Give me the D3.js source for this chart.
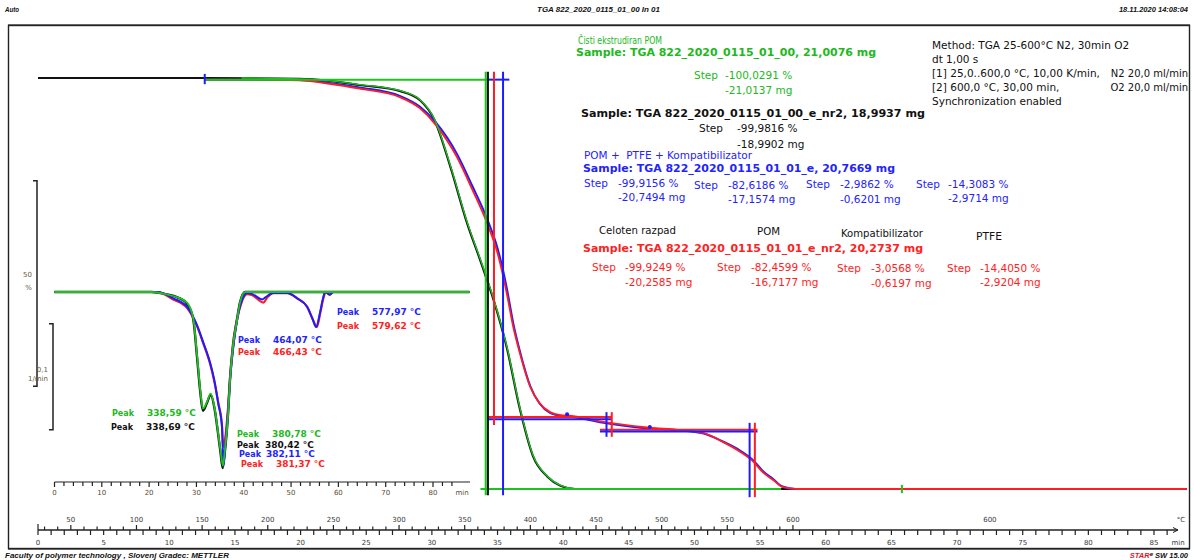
<!DOCTYPE html>
<html>
<head>
<meta charset="utf-8">
<title>TGA 822_2020_0115_01_00 In 01</title>
<script src="https://cdn.jsdelivr.net/npm/d3@7/dist/d3.min.js"></script>
<style>
  html, body { margin: 0; padding: 0; background: #fff; }
  svg { display: block; }
  text { white-space: pre; }
</style>
</head>
<body>
<svg id="chart" width="1194" height="560"></svg>
<script>
// ---------- TGA mass curves: time (min) vs. mass (%) ----------
const pomBlackTime = [0, 12.7, 19.9, 22.2, 24.5, 27.6, 29.1, 30.2, 31.4, 32.7, 33.7, 34.7, 35.7, 36.7, 37.7, 38.8, 39.8, 40.9, 87.5];
const pomBlackMass = [100, 100, 99.8, 99.3, 98.3, 96.8, 94.6, 89.8, 78.5, 64.5, 55.5, 46.0, 34.5, 19.5, 8.0, 3.0, 0.8, 0, 0];
const pomGreenTime = [15.5, 19.9, 22.2, 24.5, 27.6, 29.1, 30.2, 31.4, 32.7, 33.7, 34.7, 35.7, 36.7, 37.7, 38.8, 39.8, 40.9];
const pomGreenMass = [100, 99.8, 99.3, 98.4, 96.9, 94.7, 90.0, 78.8, 64.8, 55.8, 46.3, 34.8, 19.8, 8.2, 3.1, 0.9, 0.1];
const blendTime = [12.7, 15.5, 19.9, 22.2, 24.5, 27.6, 29.1, 30.3, 31.9, 33.1, 34.2, 35.0, 35.7, 36.2, 36.7, 37.5, 38.2, 39.0, 39.8, 40.3, 43.3, 46.6, 48.7, 50.7, 52.2, 53.5, 54.5, 55.2, 56.0, 56.7, 57.7, 87.5];
const blendRedMass = [99.6, 99.6, 99.4, 98.6, 97.4, 95.3, 92.6, 88.6, 80.8, 72.7, 64.7, 57.4, 47.7, 39.4, 33.1, 24.8, 20.9, 18.7, 18.0, 17.9, 16.2, 14.9, 14.4, 13.6, 11.4, 9.0, 6.6, 4.1, 2.2, 0.5, 0, 0];
const blendBlueMass = [99.6, 99.6, 99.5, 98.8, 97.7, 95.6, 93.0, 89.2, 81.6, 73.6, 65.8, 58.6, 49.0, 40.3, 33.6, 25.0, 20.8, 18.5, 17.8, 17.7, 16.0, 14.7, 14.3, 13.5, 11.5, 9.3, 6.9, 4.4, 2.4, 0.6, 0, 0];

// ---------- DTG curves (inset): time (min) vs. 1/min ----------
const dtgGreenTime = [0, 20.5, 23.5, 26.0, 28.0, 29.3, 30.1, 30.8, 31.36, 32.2, 33.0, 33.9, 34.5, 35.1, 35.58, 36.0, 36.7, 37.1, 37.7, 38.6, 39.2, 40.3, 87.7];
const dtgGreen = [0, 0, -0.002, -0.005, -0.010, -0.024, -0.058, -0.092, -0.110, -0.104, -0.096, -0.111, -0.130, -0.150, -0.164, -0.150, -0.115, -0.083, -0.052, -0.026, -0.010, 0, 0];
const dtgBlackTime = [0, 20.5, 23.5, 26.0, 28.0, 29.3, 30.1, 30.8, 31.37, 32.2, 33.0, 33.9, 34.5, 35.1, 35.54, 36.0, 36.7, 37.1, 37.7, 38.6, 39.2, 40.3, 87.7];
const dtgBlack = [0, 0, -0.002, -0.005, -0.011, -0.025, -0.060, -0.094, -0.112, -0.105, -0.097, -0.112, -0.131, -0.152, -0.166, -0.151, -0.114, -0.082, -0.051, -0.025, -0.010, 0, 0];
const dtgBlueTime = [0, 21.9, 25.1, 28.0, 30.1, 31.4, 32.9, 33.9, 34.6, 35.4, 35.71, 36.0, 36.7, 37.1, 37.7, 38.6, 39.6, 40.7, 41.8, 43.9, 44.9, 46.2, 49.2, 51.3, 53.4, 54.6, 55.28, 56.1, 56.8, 57.2, 58.2, 58.9, 87.7];
const dtgBlue = [0, 0, -0.006, -0.014, -0.031, -0.047, -0.067, -0.086, -0.105, -0.127, -0.164, -0.150, -0.111, -0.083, -0.055, -0.026, -0.008, -0.001, -0.002, -0.007, -0.004, -0.001, -0.001, -0.006, -0.014, -0.026, -0.033, -0.020, -0.005, 0, -0.0025, 0, 0];
const dtgRedTime = [0, 21.6, 25.1, 28.0, 30.1, 31.4, 32.9, 33.9, 34.6, 35.4, 35.64, 36.0, 36.7, 37.1, 37.7, 38.6, 39.6, 40.7, 41.8, 44.14, 45.0, 46.2, 49.2, 51.3, 53.4, 54.6, 55.46, 56.2, 56.9, 57.3, 58.2, 58.9, 87.7];
const dtgRed = [0, 0, -0.007, -0.015, -0.032, -0.048, -0.068, -0.087, -0.104, -0.126, -0.146, -0.140, -0.108, -0.081, -0.054, -0.026, -0.009, -0.002, -0.003, -0.010, -0.005, -0.001, -0.001, -0.006, -0.014, -0.026, -0.033, -0.019, -0.005, 0, -0.0025, 0, 0];

// ---------- peak temperatures (°C) ----------
const peakTemps = ["577,97", "579,62", "464,07", "466,43", "338,59", "338,69", "380,78", "380,42", "382,11", "381,37"];
const peakSeries = ["blue", "red", "blue", "red", "green", "black", "green", "black", "blue", "red"];

// ---------- axis tick labels ----------
const timeLabels = d3.range(0, 86, 5);          // min
const tempLabels = d3.range(50, 601, 50);       // °C, heating segment
const insetTimeLabels = d3.range(0, 81, 10);    // min

// ---------- evaluation results ----------
const samples = [
  "Sample: TGA 822_2020_0115_01_00, 21,0076 mg",
  "Sample: TGA 822_2020_0115_01_00_e_nr2, 18,9937 mg",
  "Sample: TGA 822_2020_0115_01_01_e, 20,7669 mg",
  "Sample: TGA 822_2020_0115_01_01_e_nr2, 20,2737 mg"
];
const greenStepPct = ["-100,0291 %"], greenStepMg = ["-21,0137 mg"];
const blackStepPct = ["-99,9816 %"], blackStepMg = ["-18,9902 mg"];
const blueStepPct = ["-99,9156 %", "-82,6186 %", "-2,9862 %", "-14,3083 %"];
const blueStepMg = ["-20,7494 mg", "-17,1574 mg", "-0,6201 mg", "-2,9714 mg"];
const redStepPct = ["-99,9249 %", "-82,4599 %", "-3,0568 %", "-14,4050 %"];
const redStepMg = ["-20,2585 mg", "-16,7177 mg", "-0,6197 mg", "-2,9204 mg"];
const stepNames = ["Celoten razpad", "POM", "Kompatibilizator", "PTFE"];
const methodLines = [
  "Method: TGA 25-600°C N2, 30min O2",
  "dt 1,00 s",
  "[1] 25,0..600,0 °C, 10,00 K/min,",
  "[2] 600,0 °C, 30,00 min,",
  "Synchronization enabled"
];
const gasLines = ["N2 20,0 ml/min", "O2 20,0 ml/min"];

// ---------- styling ----------
const COL = { green: "#1ec21e", black: "#111111", blue: "#1c1cff", red: "#ff1c24" };
const TXT = { green: "#22b822", black: "#111111", blue: "#2323ff", red: "#ff2222" };
const FONT = '"DejaVu Sans", Verdana, sans-serif';

const svg = d3.select("#chart");
const zip = (a, b) => a.map((t, i) => [t, b[i]]);

function label(g, x, y, s, o = {}) {
  const t = g.append("text").attr("x", x).attr("y", y).text(s)
    .attr("font-family", o.family || FONT)
    .attr("font-size", o.size || 10.5)
    .attr("font-weight", o.weight || "normal")
    .attr("fill", o.color || "#111");
  if (o.italic) t.attr("font-style", "italic");
  if (o.width) t.attr("textLength", o.width).attr("lengthAdjust", "spacingAndGlyphs");
  if (o.anchor) t.attr("text-anchor", o.anchor);
  return t;
}

// ---------- page frame, header, footer ----------
svg.append("rect").attr("x", 8.5).attr("y", 25.5).attr("width", 1181).attr("height", 523)
  .attr("fill", "none").attr("stroke", "#222").attr("stroke-width", 1.4);
svg.append("line").attr("x1", 8).attr("x2", 1190).attr("y1", 24.5).attr("y2", 24.5)
  .attr("stroke", "#666").attr("stroke-width", 1);
svg.append("line").attr("x1", 8).attr("x2", 1190).attr("y1", 549.5).attr("y2", 549.5)
  .attr("stroke", "#666").attr("stroke-width", 1);

const hdr = { size: 7.5, weight: "bold", italic: true, family: '"Liberation Sans", Arial, sans-serif' };
label(svg, 5, 12, "Auto", { ...hdr, width: 14 });
label(svg, 537, 12, "TGA 822_2020_0115_01_00 In 01", { ...hdr, width: 123 });
label(svg, 1188, 12, "18.11.2020 14:08:04", { ...hdr, anchor: "end" });
label(svg, 5, 558, "Faculty of polymer technology , Slovenj Gradec: METTLER", { ...hdr, width: 224 });
const star = svg.append("text").attr("x", 1188).attr("y", 558).attr("text-anchor", "end")
  .attr("font-family", hdr.family).attr("font-size", 7.5).attr("font-weight", "bold").attr("font-style", "italic");
star.append("tspan").attr("fill", "#e0141e").text("STAR");
star.append("tspan").attr("fill", "#111").attr("font-size", 6).attr("dy", -2).text("e");
star.append("tspan").attr("fill", "#111").attr("dy", 2).text(" SW 15.00");

// ---------- scales ----------
const x = d3.scaleLinear().domain([0, 85]).range([38, 1154]);
const y = d3.scaleLinear().domain([0, 100]).range([489, 78]);
const xi = d3.scaleLinear().domain([0, 80]).range([54.5, 433]);
const yi = d3.scaleLinear().domain([0, -0.1]).range([292, 398]);

const mainLine = d3.line().x(d => x(d[0])).y(d => y(d[1])).curve(d3.curveMonotoneX);
const dtgLine = d3.line().x(d => xi(d[0])).y(d => yi(d[1])).curve(d3.curveMonotoneX);

// ---------- scale brackets ----------
const br = svg.append("g").attr("fill", "none").attr("stroke", "#222").attr("stroke-width", 1.5);
br.append("path").attr("d", `M33,${y(75)}H37V${y(25)}H33`);
br.append("path").attr("d", `M49,${yi(-0.03)}H53V${yi(-0.13)}H49`);
const small = { size: 7, color: "#6b5a3a", anchor: "end" };
label(svg, 32, 277, "50", small);
label(svg, 32, 290, "%", small);
label(svg, 48, 372, "0,1", small);
label(svg, 48, 381, "1/min", small);

// ---------- inset DTG ----------
const dtg = svg.append("g").attr("fill", "none").attr("stroke-linejoin", "round");
dtg.append("path").attr("d", dtgLine(zip(dtgBlackTime, dtgBlack))).attr("stroke", COL.black).attr("stroke-width", 2.4);
dtg.append("path").attr("d", dtgLine(zip(dtgRedTime, dtgRed))).attr("stroke", COL.red).attr("stroke-width", 2.2);
dtg.append("path").attr("d", dtgLine(zip(dtgBlueTime, dtgBlue))).attr("stroke", COL.blue).attr("stroke-width", 2);
dtg.append("path").attr("d", dtgLine(zip(dtgGreenTime, dtgGreen))).attr("stroke", COL.green).attr("stroke-width", 1.8);

// inset time axis
const ia = svg.append("g").attr("transform", "translate(0,482)");
ia.append("line").attr("x1", xi(0)).attr("x2", 470).attr("stroke", "#222").attr("stroke-width", 1.2);
ia.selectAll("line.t").data(d3.range(0, 85, 2)).join("line").attr("class", "t")
  .attr("x1", d => xi(d)).attr("x2", d => xi(d)).attr("y1", 0).attr("y2", d => d % 10 === 0 ? 5 : 4)
  .attr("stroke", "#222").attr("stroke-width", 1.2);
ia.selectAll("text").data(insetTimeLabels).join("text")
  .attr("x", d => xi(d)).attr("y", 13).attr("text-anchor", "middle")
  .attr("font-family", FONT).attr("font-size", 7).attr("fill", "#5a4a30").text(d => d);
label(ia, 462, 13, "min", { size: 7, color: "#5a4a30", anchor: "middle" });

// peak annotations
const peakPos = [[337, 311], [337, 325], [238, 339], [238, 351], [112, 412], [111, 426], [237, 433], [237, 444], [239, 453], [241, 463]];
const peakValX = [372, 372, 273, 273, 147, 146, 272, 265, 266, 276];
peakTemps.forEach((v, i) => {
  const c = TXT[peakSeries[i]];
  const [px, py] = peakPos[i];
  label(svg, px, py + 3.5, "Peak", { size: 9, weight: "bold", color: c, width: 22 });
  label(svg, peakValX[i], py + 3.5, v + " °C", { size: 9, weight: "bold", color: c });
});

// ---------- main TGA curves ----------
const tga = svg.append("g").attr("fill", "none").attr("stroke-linejoin", "round");
tga.append("path").attr("d", mainLine(zip(pomBlackTime, pomBlackMass))).attr("stroke", COL.black).attr("stroke-width", 2.2);
tga.append("path").attr("d", mainLine(zip(blendTime, blendBlueMass))).attr("stroke", COL.blue).attr("stroke-width", 2);
tga.append("path").attr("d", mainLine(zip(blendTime, blendRedMass))).attr("stroke", COL.red).attr("stroke-width", 1.8);
tga.append("path").attr("d", mainLine(zip(pomGreenTime, pomGreenMass))).attr("stroke", COL.green).attr("stroke-width", 1.3);

// ---------- step evaluation lines ----------
const ev = svg.append("g").attr("stroke-width", 2);
const hseg = (t1, t2, m, c) => ev.append("line").attr("x1", x(t1)).attr("x2", x(t2)).attr("y1", y(m)).attr("y2", y(m)).attr("stroke", c);
const vseg = (t, m1, m2, c) => ev.append("line").attr("x1", x(t)).attr("x2", x(t)).attr("y1", y(m1)).attr("y2", y(m2)).attr("stroke", c);
hseg(12.7, 34.2, 99.6, COL.green);
hseg(34.2, 35.9, 99.6, COL.blue);
hseg(33.7, 56.6, 0, COL.green);
hseg(34.2, 43.7, 17.5, COL.red);
hseg(34.2, 43.7, 17.0, COL.blue);
hseg(42.8, 54.8, 14.4, COL.red);
hseg(42.8, 54.8, 14.0, COL.blue);
vseg(34.1, 101.5, -1.5, COL.green);
vseg(34.27, 101.5, -1.5, COL.black);
vseg(34.73, 101.5, 15.6, COL.red);
vseg(35.42, 101.5, -1.5, COL.blue);
vseg(43.3, 18.7, 12.7, COL.blue);
vseg(43.7, 18.7, 12.7, COL.red);
vseg(54.2, 16.1, -2, COL.blue);
vseg(54.6, 16.1, -2, COL.red);
// segment markers
vseg(12.7, 101, 98.5, COL.blue);
vseg(65.8, 1, -1, COL.green);
[[40.3, 18.2], [46.6, 15.1]].forEach(([t, m]) =>
  svg.append("circle").attr("cx", x(t)).attr("cy", y(m)).attr("r", 2).attr("fill", COL.blue));

// ---------- main time / temperature axis ----------
const ax = svg.append("g").attr("transform", "translate(0,530)");
ax.append("line").attr("x1", 38).attr("x2", 1178).attr("stroke", "#222").attr("stroke-width", 1.3);
ax.append("path").attr("d", "M1173,-2.5L1178,0L1173,2.5").attr("fill", "none").attr("stroke", "#222");
ax.selectAll("line.tm").data(d3.range(0, 87)).join("line").attr("class", "tm")
  .attr("x1", d => x(d)).attr("x2", d => x(d)).attr("y1", 0).attr("y2", 5)
  .attr("stroke", "#222").attr("stroke-width", 1.2);
ax.selectAll("text.tm").data(timeLabels).join("text").attr("class", "tm")
  .attr("x", d => x(d)).attr("y", 15).attr("text-anchor", "middle")
  .attr("font-family", FONT).attr("font-size", 7).attr("fill", "#3a3a3a").text(d => d);
label(ax, 1178, 15, "min", { size: 7, color: "#3a3a3a", anchor: "middle" });
const tempX = T => x((T - 25) / 10);
ax.selectAll("line.tp").data(d3.range(30, 601, 10)).join("line").attr("class", "tp")
  .attr("x1", d => tempX(d)).attr("x2", d => tempX(d)).attr("y1", 0).attr("y2", d => d % 50 === 0 ? -5 : -3.5)
  .attr("stroke", "#222").attr("stroke-width", 1.2);
ax.append("line").attr("x1", 38).attr("x2", 38).attr("y1", 0).attr("y2", -6).attr("stroke", "#222").attr("stroke-width", 1.2);
ax.selectAll("text.tp").data(tempLabels).join("text").attr("class", "tp")
  .attr("x", d => tempX(d)).attr("y", -8).attr("text-anchor", "middle")
  .attr("font-family", FONT).attr("font-size", 7).attr("fill", "#3a3a3a").text(d => d);
label(ax, x(72.5), -8, "600", { size: 7, color: "#3a3a3a", anchor: "middle" });
label(ax, 1181, -8, "°C", { size: 7, color: "#3a3a3a", anchor: "middle" });

// ---------- evaluation text ----------
const T = svg.append("g");
label(T, 578, 44, "Čisti ekstrudiran POM", { color: TXT.green, width: 84 });
label(T, 576, 56, samples[0], { color: TXT.green, weight: "bold", width: 300 });
label(T, 694, 79, "Step", { color: TXT.green });
label(T, 725, 79, greenStepPct[0], { color: TXT.green });
label(T, 725, 94, greenStepMg[0], { color: TXT.green });

label(T, 581, 117, samples[1], { color: TXT.black, weight: "bold", width: 344 });
label(T, 699, 132, "Step", { color: TXT.black });
label(T, 737, 132, blackStepPct[0], { color: TXT.black });
label(T, 737, 148, blackStepMg[0], { color: TXT.black });

label(T, 584, 159, "POM +  PTFE + Kompatibilizator", { color: TXT.blue, width: 168 });
label(T, 583, 172, samples[2], { color: TXT.blue, weight: "bold", width: 312 });
const blueStepX = [[584, 618], [694, 728], [806, 840], [916, 948]];
const blueRowY = [[187, 201], [189, 203], [188, 203], [188, 202]];
blueStepPct.forEach((v, i) => {
  label(T, blueStepX[i][0], blueRowY[i][0], "Step", { color: TXT.blue });
  label(T, blueStepX[i][1], blueRowY[i][0], v, { color: TXT.blue });
  label(T, blueStepX[i][1], blueRowY[i][1], blueStepMg[i], { color: TXT.blue });
});

const nameX = [[599, 77], [757, 23], [841, 82], [976, 26]];
const nameY = [234, 235, 237, 240];
stepNames.forEach((s, i) => label(T, nameX[i][0], nameY[i], s, { color: "#111", width: nameX[i][1] }));

label(T, 583, 252, samples[3], { color: TXT.red, weight: "bold", width: 340 });
const redStepX = [[592, 625], [717, 751], [837, 871], [947, 980]];
const redRowY = [[271, 286], [271, 286], [272, 287], [272, 286]];
redStepPct.forEach((v, i) => {
  label(T, redStepX[i][0], redRowY[i][0], "Step", { color: TXT.red });
  label(T, redStepX[i][1], redRowY[i][0], v, { color: TXT.red });
  label(T, redStepX[i][1], redRowY[i][1], redStepMg[i], { color: TXT.red });
});

const methodY = [49, 63, 77, 91, 105];
methodLines.forEach((s, i) => label(T, 932, methodY[i], s, { color: "#111" }));
label(T, 1188, methodY[2], gasLines[0], { color: "#111", size: 10, anchor: "end" });
label(T, 1188, methodY[3], gasLines[1], { color: "#111", size: 10, anchor: "end" });
</script>
</body>
</html>
